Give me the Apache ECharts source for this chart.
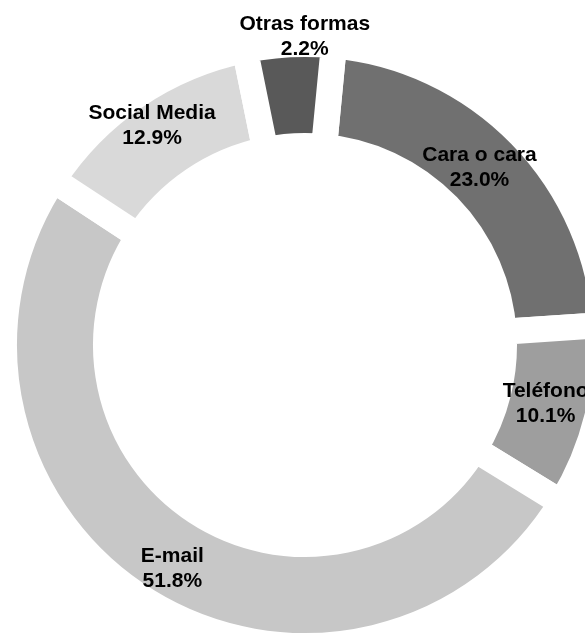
<!DOCTYPE html>
<html>
<head>
<meta charset="utf-8">
<script src="https://cdn.jsdelivr.net/npm/echarts@6/dist/echarts.min.js"></script>
<style>
html,body{margin:0;padding:0;background:#fff;}
#c{width:585px;height:634px;}
</style>
</head>
<body>
<div id="c"></div>
<script>
const categories = ['Cara o cara', 'Teléfono', 'E-mail', 'Social Media', 'Otras formas'];
const values = [23.0, 10.1, 51.8, 12.9, 2.2];
const colors = ['#707070', '#9e9e9e', '#c7c7c7', '#d9d9d9', '#595959'];

// label nudges (style only)
const labelNudge = [[-7, -1], [-5, -2], [3, 10], [-11, -10], [13, -56]];

const chart = echarts.init(document.getElementById('c'), null, {renderer: 'canvas'});
const data = categories.map((name, i) => ({
  name: name,
  value: values[i],
  itemStyle: {color: colors[i]}
}));

chart.setOption({
  backgroundColor: '#ffffff',
  animation: false,
  series: [{
    type: 'pie',
    center: [305, 345],
    radius: [199, 301],
    startAngle: 84.5,
    clockwise: true,
    minAngle: 17,
    avoidLabelOverlap: false,
    itemStyle: {borderColor: '#ffffff', borderWidth: 26},
    label: {
      show: true,
      position: 'inside',
      formatter: p => p.name + '\n' + p.value.toFixed(1) + '%',
      fontFamily: 'Liberation Sans, Arial, sans-serif',
      fontWeight: 'bold',
      fontSize: 21,
      lineHeight: 25,
      color: '#000000',
      textBorderWidth: 0
    },
    labelLine: {show: false},
    labelLayout: function (params) {
      const n = labelNudge[params.dataIndex] || [0, 0];
      return {dx: n[0], dy: n[1]};
    },
    emphasis: {disabled: true},
    data: data
  }]
});
</script>
</body>
</html>
